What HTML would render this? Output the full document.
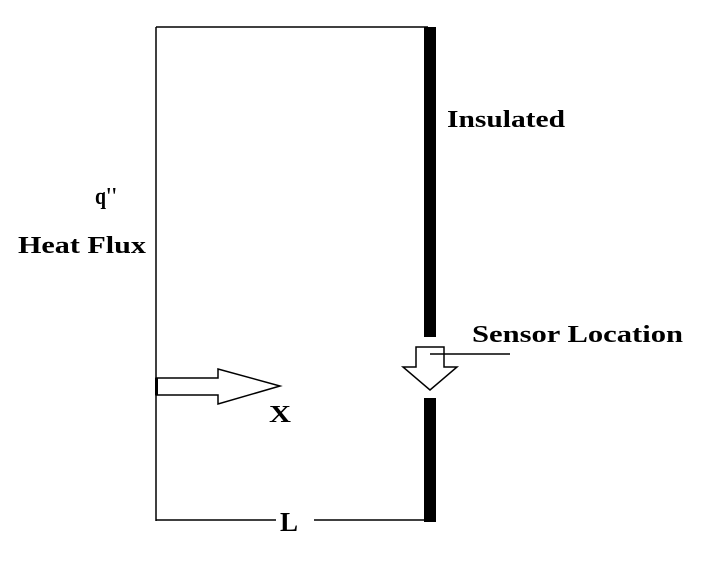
<!DOCTYPE html>
<html><head><style>
html,body{margin:0;padding:0;background:#fff;}
svg{display:block;}
text{font-family:"Liberation Serif",serif;font-weight:bold;font-size:24px;fill:#000;}
</style></head><body>
<svg width="728" height="562" viewBox="0 0 728 562" xmlns="http://www.w3.org/2000/svg">
<rect width="728" height="562" fill="#fff"/>
<g stroke="#000" stroke-width="1.5" fill="none">
<line x1="156" y1="27" x2="156" y2="521"/>
<line x1="156" y1="27" x2="428" y2="27"/>
<line x1="156" y1="520" x2="276" y2="520"/>
<line x1="314" y1="520" x2="428" y2="520"/>
<polygon points="156,378 218,378 218,369 280,386 218,404 218,395 156,395" fill="#fff"/>
<polygon points="416,347 444,347 444,367 457,367 430,390 403,367 416,367" fill="#fff"/>
<line x1="430" y1="354" x2="510" y2="354"/>
</g>
<rect x="155" y="378" width="3" height="17" fill="#000"/>
<rect x="424" y="27" width="12" height="310" fill="#000"/>
<rect x="424" y="398" width="12" height="124" fill="#000"/>
<text x="447" y="127" textLength="118" lengthAdjust="spacingAndGlyphs">Insulated</text>
<text x="472" y="342" textLength="211" lengthAdjust="spacingAndGlyphs">Sensor Location</text>
<text x="95" y="204" textLength="22" lengthAdjust="spacingAndGlyphs">q''</text>
<text x="18" y="253" textLength="128" lengthAdjust="spacingAndGlyphs">Heat Flux</text>
<text x="269" y="422" textLength="22" lengthAdjust="spacingAndGlyphs">X</text>
<text x="280" y="531" style="font-size:27px">L</text>
</svg>
</body></html>
